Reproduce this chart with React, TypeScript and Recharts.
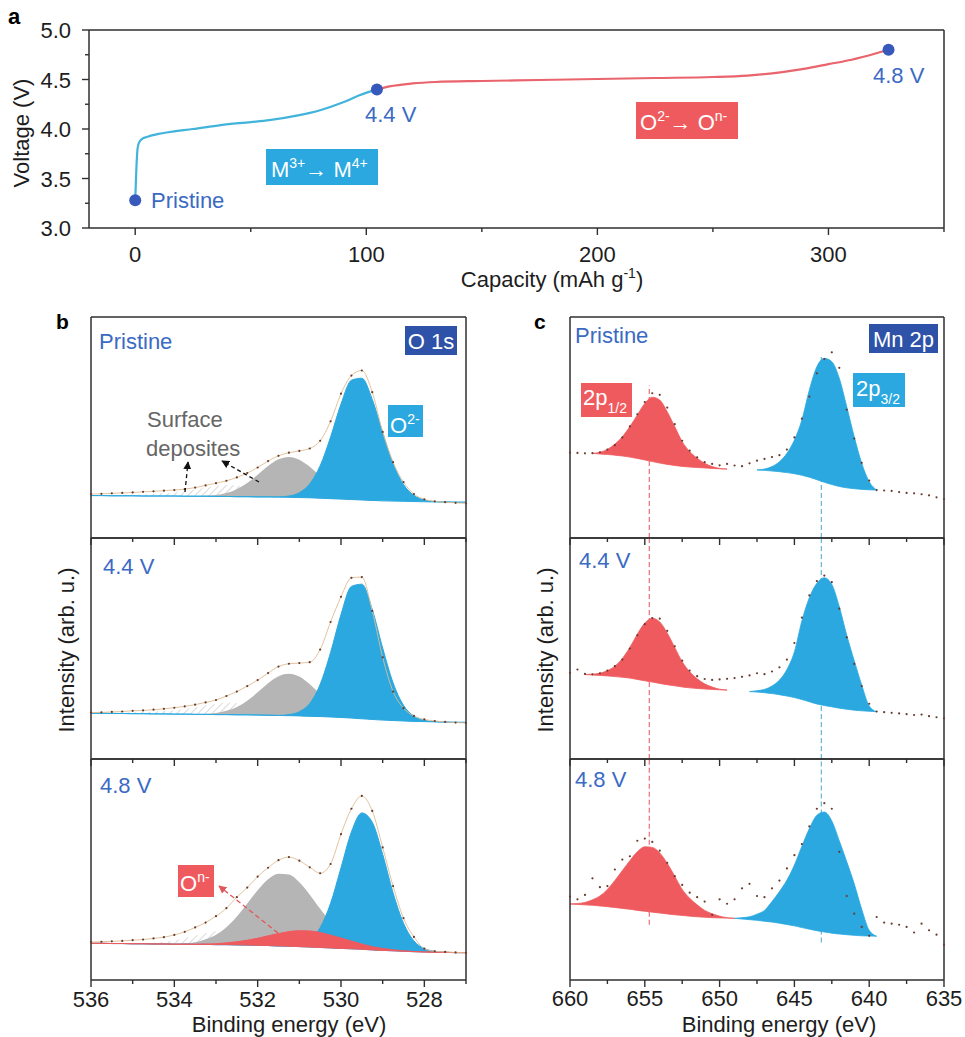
import React from 'react'
import { Area, ComposedChart, Line, ReferenceLine, XAxis, YAxis } from 'recharts'

const FONT = '"Liberation Sans", Arial, Helvetica, sans-serif'
const INK = '#1d1d1d'
const FRAME = '#2f2f2f'
const LABEL_BLUE = '#3b6ac4'
const CYAN = '#2aa8df'
const RED = '#ef5a5e'
const GRAY = '#b5b5b5'
const NAVY = '#2d52a8'
const DOT = '#6a3b2c'
const ENVELOPE = '#dcbc94'
const POINT_BLUE = '#3659bb'

// ---------- panel a : first charge ----------
const capM34 = [0, 0.5, 1.0, 1.6, 3, 5, 10, 15, 25, 37, 50, 58, 71, 80, 90, 97, 104.6]
const voltM34 = [3.28, 3.6, 3.8, 3.86, 3.9, 3.92, 3.95, 3.97, 4.0, 4.04, 4.07, 4.09, 4.14, 4.19, 4.27, 4.34, 4.4]
const capOx = [104.6, 110, 120, 130, 150, 175, 200, 225, 250, 265, 280, 290, 300, 310, 320, 326]
const voltOx = [4.4, 4.43, 4.46, 4.475, 4.485, 4.495, 4.505, 4.515, 4.525, 4.54, 4.575, 4.61, 4.655, 4.7, 4.76, 4.8]
const stateCap = [0, 104.6, 326]
const stateVolt = [3.28, 4.4, 4.8]
const capTicks = [0, 50, 100, 150, 200, 250, 300, 350]
const voltTicks = [3, 3.25, 3.5, 3.75, 4, 4.25, 4.5, 4.75, 5]

// ---------- panel b : O 1s ----------
const oGrid = [536, 535.75, 535.5, 535.25, 535, 534.75, 534.5, 534.25, 534, 533.75, 533.5, 533.25, 533, 532.75, 532.5, 532.25, 532, 531.75, 531.5, 531.25, 531, 530.75, 530.5, 530.25, 530, 529.75, 529.5, 529.25, 529, 528.75, 528.5, 528.25, 528, 527.75, 527.5, 527.25, 527]
const oTicks = [536, 535, 534, 533, 532, 531, 530, 529, 528, 527]

// pristine
const oBgP = [19.2, 19.2, 19.1, 19.1, 19.1, 19.0, 19.0, 19.0, 19.0, 18.9, 18.9, 18.9, 18.8, 18.8, 18.7, 18.7, 18.6, 18.6, 18.5, 18.4, 18.3, 18.2, 18.0, 17.8, 17.6, 17.4, 17.2, 17.0, 16.8, 16.7, 16.6, 16.5, 16.4, 16.3, 16.3, 16.2, 16.2]
const oBlueP = [0, 0, 0, 0, 0, 0, 0, 0, 0, 0, 0, 0, 0, 0, 0, 0, 0, 0, 0.1, 0.6, 2.2, 6.3, 14.7, 27.9, 43.0, 54.0, 55.1, 45.7, 30.9, 17.0, 7.6, 2.8, 0.8, 0.2, 0, 0, 0]
const oGrayP = [0, 0, 0, 0, 0, 0, 0, 0, 0, 0, 0, 0.2, 0.7, 1.6, 3.4, 6.2, 10.0, 14.0, 17.1, 18.3, 17.1, 14.0, 10.0, 6.2, 3.4, 1.6, 0.7, 0.2, 0, 0, 0, 0, 0, 0, 0, 0, 0]
const oHatchP = [0.3, 0.3, 0.4, 0.5, 0.6, 0.7, 0.9, 1.2, 1.6, 2.2, 3.0, 3.9, 4.7, 5.2, 5.0, 3.0, 1.0, 0.3, 0, 0, 0, 0, 0, 0, 0, 0, 0, 0, 0, 0, 0, 0, 0, 0, 0, 0, 0]
const oDotsP = [19.9, 20.0, 20.2, 20.4, 20.6, 20.9, 21.1, 21.4, 21.7, 22.1, 22.8, 23.8, 24.8, 25.9, 27.4, 29.4, 31.9, 34.8, 37.2, 38.6, 39.4, 40.5, 44.0, 52.8, 65.3, 73.5, 75.8, 66.0, 48.0, 34.3, 25.3, 19.9, 17.5, 16.6, 16.2, 15.9, 15.7]

// 4.4 V
const oBgM = [20.7, 20.7, 20.6, 20.6, 20.5, 20.5, 20.4, 20.4, 20.3, 20.3, 20.2, 20.2, 20.1, 20.1, 20.0, 20.0, 19.9, 19.8, 19.7, 19.6, 19.5, 19.3, 19.2, 19.0, 18.8, 18.5, 18.2, 17.9, 17.6, 17.4, 17.2, 17.0, 16.9, 16.8, 16.7, 16.6, 16.6]
const oBlueM = [0, 0, 0, 0, 0, 0, 0, 0, 0, 0, 0, 0, 0, 0, 0, 0, 0, 0, 0, 0.5, 1.9, 5.8, 14.6, 29.2, 46.6, 59.6, 60.9, 49.8, 32.6, 17.1, 7.1, 2.4, 0.6, 0.1, 0, 0, 0]
const oGrayM = [0, 0, 0, 0, 0, 0, 0, 0, 0, 0, 0, 0.2, 0.7, 1.7, 3.5, 6.4, 10.3, 14.5, 17.8, 19.0, 17.8, 14.5, 10.3, 6.4, 3.5, 1.7, 0.7, 0.2, 0, 0, 0, 0, 0, 0, 0, 0, 0]
const oHatchM = [0.3, 0.3, 0.4, 0.5, 0.6, 0.8, 1.0, 1.3, 1.7, 2.3, 3.1, 4.0, 4.8, 5.3, 5.2, 3.2, 1.1, 0.3, 0, 0, 0, 0, 0, 0, 0, 0, 0, 0, 0, 0, 0, 0, 0, 0, 0, 0, 0]
const oDotsM = [21.0, 21.1, 21.3, 21.5, 21.8, 22.0, 22.3, 22.7, 23.2, 23.8, 24.6, 25.6, 26.7, 28.5, 30.5, 33.0, 35.7, 38.9, 41.8, 43.1, 43.4, 43.8, 49.5, 62.0, 73.4, 82.0, 82.3, 67.0, 46.0, 30.5, 23.0, 19.5, 17.9, 17.2, 16.8, 16.5, 16.3]

// 4.8 V
const oBgH = [16.6, 16.6, 16.5, 16.5, 16.4, 16.4, 16.3, 16.3, 16.2, 16.2, 16.1, 16.1, 16.0, 16.0, 15.9, 15.8, 15.7, 15.6, 15.4, 15.3, 15.1, 14.9, 14.7, 14.5, 14.3, 14.1, 13.9, 13.6, 13.4, 13.2, 13.0, 12.8, 12.7, 12.6, 12.5, 12.4, 12.4]
const oBlueH = [0, 0, 0, 0, 0, 0, 0, 0, 0, 0, 0, 0, 0, 0, 0, 0, 0, 0, 0, 0.2, 0.9, 3.2, 9.0, 20.2, 36.5, 52.9, 61.7, 57.8, 43.5, 26.2, 12.7, 4.9, 1.5, 0.4, 0.1, 0, 0]
const oGrayH = [0, 0, 0, 0, 0, 0, 0, 0, 0, 0.4, 1.0, 2.3, 4.5, 7.9, 12.8, 18.8, 24.9, 30.0, 32.7, 32.4, 29.1, 23.7, 17.5, 11.7, 7.1, 3.9, 2.0, 0.9, 0.4, 0.1, 0, 0, 0, 0, 0, 0, 0]
const oRedH = [0, 0, 0, 0, 0, 0, 0, 0, 0, 0, 0.1, 0.2, 0.4, 0.8, 1.4, 2.2, 3.2, 4.4, 5.6, 6.6, 7.2, 7.3, 6.8, 5.8, 4.7, 3.5, 2.4, 1.5, 0.9, 0.5, 0.2, 0.1, 0, 0, 0, 0, 0]
const oHatchH = [0.1, 0.1, 0.1, 0.1, 0.2, 0.3, 0.5, 1.0, 1.7, 2.7, 3.9, 5.1, 6.1, 6.5, 6.3, 5.5, 4.4, 3.2, 2.1, 1.3, 0.7, 0.3, 0.1, 0, 0, 0, 0, 0, 0, 0, 0, 0, 0, 0, 0, 0, 0]
const oDotsH = [17.2, 17.3, 17.5, 17.7, 18.0, 18.3, 18.8, 19.4, 20.4, 21.8, 23.8, 26.0, 28.9, 32.5, 37.5, 41.8, 46.8, 50.8, 54.2, 55.6, 54.0, 51.0, 48.3, 52.5, 66.0, 77.5, 83.3, 76.5, 60.0, 42.5, 28.0, 19.5, 14.2, 13.0, 12.7, 12.5, 12.3]

// ---------- panel c : Mn 2p ----------
const mnGrid = [660, 659.5, 659, 658.5, 658, 657.5, 657, 656.5, 656, 655.5, 655, 654.5, 654, 653.5, 653, 652.5, 652, 651.5, 651, 650.5, 650, 649.5, 649, 648.5, 648, 647.5, 647, 646.5, 646, 645.5, 645, 644.5, 644, 643.5, 643, 642.5, 642, 641.5, 641, 640.5, 640, 639.5, 639, 638.5, 638, 637.5, 637, 636.5, 636, 635.5, 635]
const mnTicks = [660, 657.5, 655, 652.5, 650, 647.5, 645, 642.5, 640, 637.5, 635]
const mnLine12 = 654.7
const mnLine32 = 643.2

// pristine
const mnRedStartP = 658.5
const mnRedBaseP = [38.3, 38.0, 37.8, 37.5, 37.1, 36.6, 36.0, 35.3, 34.6, 33.9, 33.3, 32.8, 32.4, 32.1, 31.9, 31.7, 31.5, 31.3, 31.2]
const mnRedTopP = [38.3, 38.8, 40.1, 42.5, 45.8, 50.4, 55.7, 60.9, 63.7, 62.4, 57.1, 50.4, 43.6, 39.1, 36.1, 33.8, 32.3, 31.5, 31.2]
const mnBlueStartP = 647.5
const mnBlueBaseP = [30.8, 30.6, 30.3, 30.0, 29.6, 29.1, 28.4, 27.5, 26.4, 25.2, 24.2, 23.3, 22.7, 22.3, 22.0, 21.8, 21.7]
const mnBlueTopP = [30.8, 31.2, 32.3, 34.5, 38.3, 44.3, 53.4, 67.0, 77.5, 81.3, 79.8, 72.3, 59.4, 45.8, 33.8, 25.5, 21.7]
const mnDotsP = [38.6, 38.5, 38.3, 38.4, 38.8, 40.0, 42.0, 45.5, 50.5, 56.0, 61.5, 65.5, 64.8, 59.0, 51.5, 44.0, 39.5, 36.5, 34.3, 33.5, 32.9, 33.5, 32.8, 32.5, 33.8, 35.0, 35.8, 36.6, 37.5, 40.0, 45.5, 54.0, 64.0, 74.5, 81.0, 84.0, 77.0, 58.0, 45.0, 34.0, 26.0, 21.7, 21.5, 21.3, 20.8, 20.4, 20.2, 19.8, 19.3, 18.4, 17.6]

// 4.4 V
const mnRedStartM = 659
const mnRedBaseM = [38.2, 38.0, 37.8, 37.6, 37.3, 37.0, 36.6, 36.0, 35.4, 34.8, 34.2, 33.6, 33.1, 32.6, 32.2, 31.9, 31.7, 31.5, 31.3, 31.2]
const mnRedTopM = [38.2, 38.4, 38.8, 40.0, 42.0, 45.5, 50.5, 56.5, 61.5, 63.7, 62.0, 57.0, 50.5, 44.0, 39.5, 36.3, 34.0, 32.6, 31.6, 31.2]
const mnBlueStartM = 648
const mnBlueBaseM = [30.5, 30.3, 30.0, 29.6, 29.1, 28.5, 27.8, 26.9, 25.9, 24.9, 24.2, 23.6, 23.0, 22.5, 22.1, 21.8, 21.6, 21.4]
const mnBlueTopM = [30.5, 30.9, 31.5, 33.0, 35.7, 40.5, 48.5, 62.5, 73.0, 79.5, 82.0, 79.0, 69.0, 56.0, 44.5, 33.5, 24.0, 21.4]
const mnDotsM = [39.0, 40.5, 38.5, 38.3, 38.8, 40.0, 42.0, 45.0, 50.0, 56.0, 61.0, 63.8, 63.5, 58.0, 51.0, 44.5, 40.0, 37.5, 36.2, 35.8, 36.0, 36.3, 36.6, 37.2, 37.8, 38.8, 38.4, 39.6, 41.5, 45.0, 52.5, 64.0, 74.0, 80.5, 83.0, 80.0, 68.0, 55.0, 43.0, 33.0, 25.0, 21.5, 21.2, 20.9, 20.6, 20.3, 19.9, 20.1, 19.4, 18.9, 18.4]

// 4.8 V
const mnRedStartH = 660
const mnRedBaseH = [34.4, 34.2, 34.0, 33.8, 33.5, 33.2, 32.8, 32.4, 32.0, 31.5, 31.1, 30.7, 30.3, 29.9, 29.5, 29.2, 28.9, 28.6, 28.4, 28.2, 28.1, 28.0, 27.9]
const mnRedTopH = [34.4, 34.6, 35.1, 36.3, 38.0, 41.0, 45.0, 49.5, 54.0, 58.0, 60.3, 60.0, 57.5, 52.8, 47.0, 41.0, 37.0, 34.0, 31.5, 30.0, 28.9, 28.2, 27.9]
const mnBlueStartH = 649
const mnBlueBaseH = [27.9, 27.6, 27.3, 27.0, 26.6, 26.2, 25.7, 25.1, 24.5, 23.7, 23.0, 22.3, 21.7, 21.2, 20.8, 20.5, 20.2, 20.0, 19.9, 19.8]
const mnBlueTopH = [27.9, 28.2, 28.6, 29.8, 31.5, 35.5, 40.0, 45.2, 52.0, 60.5, 68.5, 74.5, 76.0, 72.0, 63.0, 53.5, 43.5, 32.0, 22.5, 19.8]
const mnDotsH = [37.7, 36.5, 38.5, 46.0, 42.0, 42.5, 50.0, 54.5, 56.0, 63.0, 64.0, 62.5, 58.5, 53.0, 47.0, 43.0, 39.5, 37.5, 35.5, 29.5, 36.5, 34.5, 36.5, 41.5, 43.5, 38.0, 37.5, 41.5, 45.0, 50.5, 56.5, 61.5, 69.5, 77.5, 80.0, 77.5, 58.0, 38.0, 30.0, 24.0, 20.0, 28.5, 26.0, 25.5, 25.0, 24.0, 21.5, 25.5, 22.5, 20.5, 16.0]

// dashed guide extents per state (intensity units)
const dash12Span = [[0, 69], [0, 100], [25, 100]]
const dash32Span = [[0, 83], [0, 100], [17, 100]]

// ---------- table builders ----------
type Pair = [number, number]
const band = (bg: number[], h: number[], i: number): Pair => [bg[i], Math.round((bg[i] + h[i]) * 100) / 100]

function buildORows(bg: number[], blue: number[], gray: number[], hatch: number[], dots: number[], red?: number[]) {
  return oGrid.map((e, i) => ({
    e,
    blue: band(bg, blue, i),
    gray: band(bg, gray, i),
    hatch: band(bg, hatch, i),
    red: red ? band(bg, red, i) : null,
    dots: dots[i],
  }))
}

const seg = (start: number, base: number[], top: number[], e: number): Pair | null => {
  const i = Math.round((start - e) / 0.5)
  return i >= 0 && i < base.length ? [base[i], top[i]] : null
}

function buildMnRows(rs: number, rb: number[], rt: number[], bs: number, bb: number[], bt: number[], dots: number[]) {
  return mnGrid.map((e, i) => ({
    e,
    red: seg(rs, rb, rt, e),
    blue: seg(bs, bb, bt, e),
    dots: dots[i],
  }))
}

const voltRows = [
  ...capM34.map((c, i) => ({ cap: c, m: voltM34[i] })),
  ...capOx.map((c, i) => ({ cap: c, o: voltOx[i] })),
  ...stateCap.map((c, i) => ({ cap: c, pt: stateVolt[i] })),
]

const oPanels = [
  { id: 'p', rows: buildORows(oBgP, oBlueP, oGrayP, oHatchP, oDotsP), red: false },
  { id: 'm', rows: buildORows(oBgM, oBlueM, oGrayM, oHatchM, oDotsM), red: false },
  { id: 'h', rows: buildORows(oBgH, oBlueH, oGrayH, oHatchH, oDotsH, oRedH), red: true },
]

const mnPanels = [
  buildMnRows(mnRedStartP, mnRedBaseP, mnRedTopP, mnBlueStartP, mnBlueBaseP, mnBlueTopP, mnDotsP),
  buildMnRows(mnRedStartM, mnRedBaseM, mnRedTopM, mnBlueStartM, mnBlueBaseM, mnBlueTopM, mnDotsM),
  buildMnRows(mnRedStartH, mnRedBaseH, mnRedTopH, mnBlueStartH, mnBlueBaseH, mnBlueTopH, mnDotsH),
]

const subTops = [317, 538, 759]
const SUB_H = 221

// ---------- ticks ----------
function makeXTick(showLabel: boolean, isMajor: (v: number) => boolean, fmt: (v: number) => string, labelDy: number) {
  return function XTick(props: any) {
    const { x, y, payload } = props
    const v = payload.value as number
    const major = isMajor(v)
    return (
      <g>
        <line x1={x} x2={x} y1={y} y2={y + (major ? 7 : 4)} stroke={FRAME} strokeWidth={1.4} />
        {showLabel && major ? (
          <text x={x} y={y + labelDy} textAnchor="middle" fontSize={22} fontFamily={FONT} fill={INK}>
            {fmt(v)}
          </text>
        ) : null}
      </g>
    )
  }
}

function makeYTick(isMajor: (v: number) => boolean, fmt: (v: number) => string) {
  return function YTick(props: any) {
    const { x, y, payload } = props
    const v = payload.value as number
    const major = isMajor(v)
    return (
      <g>
        <line x1={x - (major ? 7 : 4)} x2={x} y1={y} y2={y} stroke={FRAME} strokeWidth={1.4} />
        {major ? (
          <text x={x - 18} y={y + 8} textAnchor="end" fontSize={22} fontFamily={FONT} fill={INK}>
            {fmt(v)}
          </text>
        ) : null}
      </g>
    )
  }
}

const near = (a: number, b: number) => Math.abs(a - b) < 1e-6
const capTick = makeXTick(true, (v) => near(v % 100, 0), (v) => String(v), 34)
const voltTick = makeYTick((v) => near(v % 0.5, 0) || near(v % 0.5, 0.5), (v) => v.toFixed(1))
const oTickBare = makeXTick(false, (v) => near(v % 2, 0), (v) => String(v), 27)
const oTickLabel = makeXTick(true, (v) => near(v % 2, 0), (v) => String(v), 27)
const mnTickBare = makeXTick(false, (v) => near(v % 5, 0), (v) => String(v), 26)
const mnTickLabel = makeXTick(true, (v) => near(v % 5, 0), (v) => String(v), 26)

const frameLine = { stroke: FRAME, strokeWidth: 1.5 }

// ---------- charts ----------
// every axis is 1px thick, so margins are trimmed by 1 to keep the plot box on the reference frame
function VoltageChart() {
  return (
    <div style={{ position: 'absolute', left: 0, top: 0 }}>
      <ComposedChart width={965} height={300} data={voltRows} margin={{ top: 29, right: 20, bottom: 71, left: 88 }}>
        <XAxis dataKey="cap" type="number" domain={[-20, 350]} ticks={capTicks} interval={0} height={1}
          tickSize={0} tickMargin={0} tickLine={false} axisLine={frameLine} tick={capTick} />
        <XAxis xAxisId="top" orientation="top" type="number" domain={[-20, 350]} height={1}
          tick={false} tickLine={false} axisLine={frameLine} />
        <YAxis type="number" domain={[3, 5]} ticks={voltTicks} interval={0} width={1}
          tickSize={0} tickMargin={0} tickLine={false} axisLine={frameLine} tick={voltTick} />
        <YAxis yAxisId="right" orientation="right" type="number" domain={[3, 5]} width={1}
          tick={false} tickLine={false} axisLine={frameLine} />
        <Line type="monotone" dataKey="m" stroke="#42b4dc" strokeWidth={2.2} dot={false} isAnimationActive={false} />
        <Line type="monotone" dataKey="o" stroke="#e9646c" strokeWidth={2.2} dot={false} isAnimationActive={false} />
        <Line dataKey="pt" stroke="none" dot={{ r: 6, fill: POINT_BLUE, stroke: 'none' }} isAnimationActive={false} />
      </ComposedChart>
    </div>
  )
}

function OChart({ rows, top, last, withRed, id }: { rows: any[]; top: number; last: boolean; withRed: boolean; id: string }) {
  const bottom = last ? 60 : 12
  return (
    <div style={{ position: 'absolute', left: 0, top: top - 2 }}>
      <ComposedChart width={480} height={SUB_H + 2 + bottom} data={rows} margin={{ top: 1, right: 13, bottom: bottom - 1, left: 90 }}>
        <defs>
          <pattern id={`hatch-${id}`} patternUnits="userSpaceOnUse" width={5} height={5} patternTransform="rotate(45)">
            <rect width={5} height={5} fill="#ffffff" />
            <line x1={0} y1={0} x2={0} y2={5} stroke="#a9a9a9" strokeWidth={0.9} />
          </pattern>
        </defs>
        <XAxis dataKey="e" type="number" domain={[527, 536]} reversed ticks={oTicks} interval={0} height={1}
          tickSize={0} tickMargin={0} tickLine={false} axisLine={frameLine} tick={last ? oTickLabel : oTickBare} />
        <XAxis xAxisId="top" orientation="top" type="number" domain={[527, 536]} reversed height={1}
          tick={false} tickLine={false} axisLine={frameLine} />
        <YAxis type="number" domain={[0, 100]} width={1} tick={false} tickLine={false} axisLine={frameLine} />
        <YAxis yAxisId="right" orientation="right" type="number" domain={[0, 100]} width={1}
          tick={false} tickLine={false} axisLine={frameLine} />
        <Area type="monotone" dataKey={(d: any) => d.hatch} stroke="none" fill={`url(#hatch-${id})`} fillOpacity={1} isAnimationActive={false} />
        <Area type="monotone" dataKey={(d: any) => d.gray} stroke="none" fill={GRAY} fillOpacity={1} isAnimationActive={false} />
        <Area type="monotone" dataKey={(d: any) => d.blue} stroke={CYAN} strokeWidth={1} fill={CYAN} fillOpacity={1} isAnimationActive={false} />
        {withRed ? (
          <Area type="monotone" dataKey={(d: any) => d.red} stroke={RED} strokeWidth={1} fill={RED} fillOpacity={1} isAnimationActive={false} />
        ) : null}
        <Line type="monotone" dataKey="dots" stroke={ENVELOPE} strokeWidth={0.9}
          dot={{ r: 1.1, fill: DOT, stroke: 'none' }} isAnimationActive={false} />
      </ComposedChart>
    </div>
  )
}

function MnChart({ rows, top, last, idx }: { rows: any[]; top: number; last: boolean; idx: number }) {
  const bottom = last ? 60 : 12
  const s12 = dash12Span[idx]
  const s32 = dash32Span[idx]
  return (
    <div style={{ position: 'absolute', left: 480, top: top - 2 }}>
      <ComposedChart width={485} height={SUB_H + 2 + bottom} data={rows} margin={{ top: 1, right: 20, bottom: bottom - 1, left: 89 }}>
        <XAxis dataKey="e" type="number" domain={[635, 660]} reversed ticks={mnTicks} interval={0} height={1}
          tickSize={0} tickMargin={0} tickLine={false} axisLine={frameLine} tick={last ? mnTickLabel : mnTickBare} />
        <XAxis xAxisId="top" orientation="top" type="number" domain={[635, 660]} reversed height={1}
          tick={false} tickLine={false} axisLine={frameLine} />
        <YAxis type="number" domain={[0, 100]} width={1} tick={false} tickLine={false} axisLine={frameLine} />
        <YAxis yAxisId="right" orientation="right" type="number" domain={[0, 100]} width={1}
          tick={false} tickLine={false} axisLine={frameLine} />
        <ReferenceLine segment={[{ x: mnLine12, y: s12[0] }, { x: mnLine12, y: s12[1] }]} stroke="#e8707a"
          strokeWidth={1.2} strokeDasharray="5 3" zIndex={50} />
        <ReferenceLine segment={[{ x: mnLine32, y: s32[0] }, { x: mnLine32, y: s32[1] }]} stroke="#62b4d6"
          strokeWidth={1.2} strokeDasharray="5 3" zIndex={50} />
        <Area type="monotone" dataKey={(d: any) => d.red} stroke={RED} strokeWidth={0.8} fill={RED} fillOpacity={1} isAnimationActive={false} />
        <Area type="monotone" dataKey={(d: any) => d.blue} stroke={CYAN} strokeWidth={0.8} fill={CYAN} fillOpacity={1} isAnimationActive={false} />
        <Line dataKey="dots" stroke="none" dot={{ r: 1.1, fill: DOT, stroke: 'none' }} isAnimationActive={false} />
      </ComposedChart>
    </div>
  )
}

// ---------- annotations ----------
function Annotations() {
  const t = { fontFamily: FONT, fontSize: 22 }
  return (
    <svg width={965} height={1037} style={{ position: 'absolute', left: 0, top: 0, pointerEvents: 'none' }}>
      <defs>
        <marker id="ahK" viewBox="0 0 10 10" refX={9} refY={5} markerWidth={8} markerHeight={8} orient="auto" markerUnits="userSpaceOnUse">
          <path d="M0,0 L10,5 L0,10 z" fill="#111" />
        </marker>
        <marker id="ahR" viewBox="0 0 10 10" refX={9} refY={5} markerWidth={8} markerHeight={8} orient="auto" markerUnits="userSpaceOnUse">
          <path d="M0,0 L10,5 L0,10 z" fill="#e0585c" />
        </marker>
      </defs>

      {/* panel a */}
      <text x={8} y={24} {...t} fontWeight="bold" fill="#000">a</text>
      <text x={151} y={208} {...t} fill={LABEL_BLUE}>Pristine</text>
      <text x={365} y={122} {...t} fill={LABEL_BLUE}>4.4 V</text>
      <text x={873} y={83} {...t} fill={LABEL_BLUE}>4.8 V</text>
      <rect x={266} y={149} width={112} height={36} fill={CYAN} />
      <text x={271} y={177} {...t} fill="#fff">
        M<tspan dy={-9} fontSize={14}>3+</tspan><tspan dy={9}>→ M</tspan><tspan dy={-9} fontSize={14}>4+</tspan>
      </text>
      <rect x={636} y={102} width={102} height={37} fill={RED} />
      <text x={640} y={130} {...t} fill="#fff">
        O<tspan dy={-9} fontSize={14}>2-</tspan><tspan dy={9}>→ O</tspan><tspan dy={-9} fontSize={14}>n-</tspan>
      </text>
      <text x={29} y={133} {...t} fill={INK} textAnchor="middle" transform="rotate(-90 29 133)">Voltage (V)</text>
      <text x={552} y={287} {...t} fill={INK} textAnchor="middle">
        Capacity (mAh g<tspan dy={-9} fontSize={14}>-1</tspan><tspan dy={9}>)</tspan>
      </text>

      {/* panel b */}
      <text x={56} y={329} {...t} fontSize={21} fontWeight="bold" fill="#000">b</text>
      <text x={99} y={349} {...t} fill={LABEL_BLUE}>Pristine</text>
      <text x={103} y={574} {...t} fill={LABEL_BLUE}>4.4 V</text>
      <text x={100} y={793} {...t} fill={LABEL_BLUE}>4.8 V</text>
      <rect x={405} y={326} width={52} height={29} fill={NAVY} />
      <text x={431} y={349} {...t} fill="#fff" textAnchor="middle">O 1s</text>
      <rect x={388} y={405} width={35} height={32} fill={CYAN} />
      <text x={390} y={433} {...t} fill="#fff">
        O<tspan dy={-9} fontSize={14}>2-</tspan>
      </text>
      <text x={147} y={427} {...t} fill="#666">Surface</text>
      <text x={146} y={456} {...t} fill="#666">deposites</text>
      <line x1={185} y1={492} x2={188} y2={462} stroke="#111" strokeWidth={1.3} strokeDasharray="4 3" markerEnd="url(#ahK)" />
      <line x1={259} y1={482} x2={222} y2={461} stroke="#111" strokeWidth={1.3} strokeDasharray="4 3" markerEnd="url(#ahK)" />
      <rect x={178} y={865} width={36} height={32} fill={RED} />
      <text x={180} y={891} {...t} fill="#fff">
        O<tspan dy={-9} fontSize={14}>n-</tspan>
      </text>
      <line x1={278} y1={933} x2={219} y2={886} stroke="#e0585c" strokeWidth={1.3} strokeDasharray="5 3" markerEnd="url(#ahR)" />
      <text x={74} y={650} {...t} fill={INK} textAnchor="middle" transform="rotate(-90 74 650)">Intensity (arb. u.)</text>
      <text x={289} y={1032} {...t} fill={INK} textAnchor="middle">Binding energy (eV)</text>

      {/* panel c */}
      <text x={534} y={329} {...t} fontSize={21} fontWeight="bold" fill="#000">c</text>
      <text x={575} y={343} {...t} fill={LABEL_BLUE}>Pristine</text>
      <text x={579} y={568} {...t} fill={LABEL_BLUE}>4.4 V</text>
      <text x={575} y={787} {...t} fill={LABEL_BLUE}>4.8 V</text>
      <rect x={869} y={324} width={69} height={29} fill={NAVY} />
      <text x={903.5} y={347} {...t} fill="#fff" textAnchor="middle">Mn 2p</text>
      <rect x={581} y={383} width={51} height={34} fill={RED} />
      <text x={583} y={405} {...t} fill="#fff">
        2p<tspan dy={8} fontSize={14}>1/2</tspan>
      </text>
      <rect x={853} y={373} width={52} height={34} fill={CYAN} />
      <text x={856} y={396} {...t} fill="#fff">
        2p<tspan dy={8} fontSize={14}>3/2</tspan>
      </text>
      <text x={553} y={650} {...t} fill={INK} textAnchor="middle" transform="rotate(-90 553 650)">Intensity (arb. u.)</text>
      <text x={779} y={1032} {...t} fill={INK} textAnchor="middle">Binding energy (eV)</text>
    </svg>
  )
}

export default function App() {
  return (
    <div style={{ position: 'absolute', left: 0, top: 0, width: 965, height: 1037, background: '#fff', fontFamily: FONT, overflow: 'hidden' }}>
      <VoltageChart />
      {oPanels.map((p, i) => (
        <OChart key={p.id} id={p.id} rows={p.rows} top={subTops[i]} last={i === 2} withRed={p.red} />
      ))}
      {mnPanels.map((rows, i) => (
        <MnChart key={i} idx={i} rows={rows} top={subTops[i]} last={i === 2} />
      ))}
      <Annotations />
    </div>
  )
}
